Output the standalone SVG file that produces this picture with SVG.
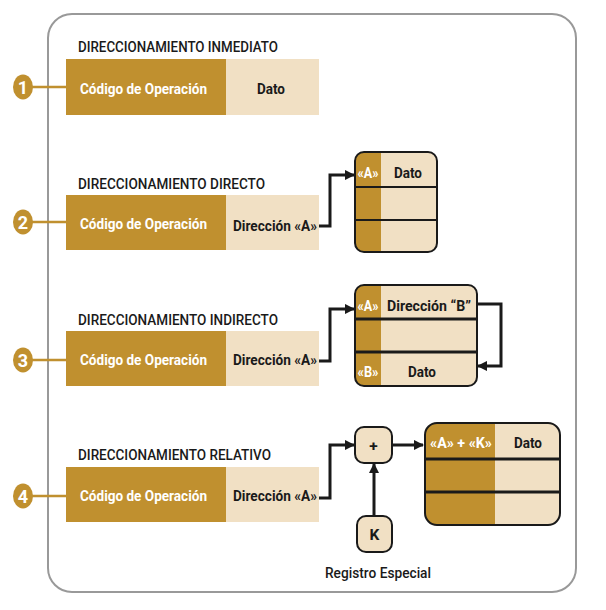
<svg xmlns="http://www.w3.org/2000/svg" width="606" height="610" viewBox="0 0 606 610">
<defs>
<style>
text{font-family:"Liberation Sans Narrow",Roboto,"Liberation Sans",Arial,sans-serif;}
.title{font-size:14px;font-weight:500;fill:#1a1a1a;}
.op{font-size:15.5px;font-weight:bold;fill:#fff;}
.lbl{font-size:15.5px;font-weight:bold;fill:#1a1a1a;}
.wl{font-size:14px;font-weight:bold;fill:#fff;}
.num{font-size:18px;font-weight:bold;fill:#fff;}
.dark{fill:#C0902F;}
.light{fill:#F1E0C4;}
.lead{stroke:#C0902F;stroke-width:2.5;fill:none;}
.conn{stroke:#1a1a1a;stroke-width:3;fill:none;}
.frame{fill:none;stroke:#1a1a1a;stroke-width:2;}
.sep{stroke:#1a1a1a;stroke-width:2;}
.sep3{stroke:#1a1a1a;stroke-width:3;}
</style>
<marker id="ah" viewBox="0 0 10 10" refX="9" refY="5" markerWidth="3.5" markerHeight="3.5" orient="auto" markerUnits="strokeWidth">
<path d="M0,0 L10,5 L0,10 z" fill="#1a1a1a"/>
</marker>
<clipPath id="c2"><rect x="355" y="152" width="82" height="100" rx="9"/></clipPath>
<clipPath id="c3"><rect x="355" y="285" width="122" height="101" rx="9"/></clipPath>
<clipPath id="c4"><rect x="425" y="423" width="135" height="102" rx="12"/></clipPath>
</defs>
<rect x="48" y="14" width="528" height="578" rx="24" fill="#fff" stroke="#999" stroke-width="2"/>

<g id="row1">
<text class="title" x="78" y="52" textLength="200" lengthAdjust="spacingAndGlyphs">DIRECCIONAMIENTO INMEDIATO</text>
<rect class="dark" x="66" y="59" width="160" height="56"/>
<rect class="light" x="226" y="59" width="93" height="56"/>
<text class="op" x="80" y="94" textLength="127" lengthAdjust="spacingAndGlyphs">Código de Operación</text>
<text class="lbl" x="271" y="94" text-anchor="middle" textLength="28" lengthAdjust="spacingAndGlyphs">Dato</text>
<line class="lead" x1="32" y1="87" x2="66" y2="87"/>
<ellipse class="dark" cx="23" cy="87" rx="10" ry="12.5"/>
<text class="num" x="23" y="93.5" text-anchor="middle">1</text>
</g>

<g id="row2">
<text class="title" x="78" y="189" textLength="187" lengthAdjust="spacingAndGlyphs">DIRECCIONAMIENTO DIRECTO</text>
<rect class="dark" x="66" y="195" width="160" height="55"/>
<rect class="light" x="226" y="195" width="93" height="55"/>
<text class="op" x="80" y="229" textLength="127" lengthAdjust="spacingAndGlyphs">Código de Operación</text>
<text class="lbl" x="233" y="231" textLength="84" lengthAdjust="spacingAndGlyphs">Dirección «A»</text>
<line class="lead" x1="32" y1="222" x2="66" y2="222"/>
<ellipse class="dark" cx="23" cy="222" rx="10" ry="12.5"/>
<text class="num" x="23" y="228.5" text-anchor="middle">2</text>
</g>

<g id="mem2">
<g clip-path="url(#c2)">
<rect class="light" x="355" y="152" width="82" height="100"/>
<rect class="dark" x="355" y="152" width="26" height="100"/>
</g>
<line class="sep" x1="355" y1="187" x2="437" y2="187"/>
<line class="sep" x1="355" y1="220" x2="437" y2="220"/>
<rect class="frame" x="355" y="152" width="82" height="100" rx="9"/>
<text class="wl" x="368" y="178" text-anchor="middle" textLength="21" lengthAdjust="spacingAndGlyphs">«A»</text>
<text class="lbl" x="408" y="178" text-anchor="middle" textLength="28" lengthAdjust="spacingAndGlyphs">Dato</text>
</g>

<g id="row3">
<text class="title" x="78" y="325" textLength="200" lengthAdjust="spacingAndGlyphs">DIRECCIONAMIENTO INDIRECTO</text>
<rect class="dark" x="66" y="331" width="160" height="55"/>
<rect class="light" x="226" y="331" width="93" height="55"/>
<text class="op" x="80" y="365" textLength="127" lengthAdjust="spacingAndGlyphs">Código de Operación</text>
<text class="lbl" x="233" y="365" textLength="84" lengthAdjust="spacingAndGlyphs">Dirección «A»</text>
<line class="lead" x1="32" y1="360" x2="66" y2="360"/>
<ellipse class="dark" cx="23" cy="360" rx="10" ry="12.5"/>
<text class="num" x="23" y="366.5" text-anchor="middle">3</text>
</g>

<g id="mem3">
<g clip-path="url(#c3)">
<rect class="light" x="355" y="285" width="122" height="101"/>
<rect class="dark" x="355" y="285" width="26" height="101"/>
</g>
<line class="sep3" x1="355" y1="319" x2="477" y2="319"/>
<line class="sep3" x1="355" y1="352" x2="477" y2="352"/>
<rect class="frame" x="355" y="285" width="122" height="101" rx="9"/>
<text class="wl" x="368" y="311" text-anchor="middle" textLength="21" lengthAdjust="spacingAndGlyphs">«A»</text>
<text class="lbl" x="429" y="311" text-anchor="middle" textLength="84" lengthAdjust="spacingAndGlyphs">Dirección “B”</text>
<text class="wl" x="368" y="377" text-anchor="middle" textLength="21" lengthAdjust="spacingAndGlyphs">«B»</text>
<text class="lbl" x="422" y="377" text-anchor="middle" textLength="28" lengthAdjust="spacingAndGlyphs">Dato</text>
</g>

<g id="row4">
<text class="title" x="78" y="460" textLength="193" lengthAdjust="spacingAndGlyphs">DIRECCIONAMIENTO RELATIVO</text>
<rect class="dark" x="66" y="467" width="160" height="55"/>
<rect class="light" x="226" y="467" width="93" height="55"/>
<text class="op" x="80" y="501" textLength="127" lengthAdjust="spacingAndGlyphs">Código de Operación</text>
<text class="lbl" x="233" y="501" textLength="84" lengthAdjust="spacingAndGlyphs">Dirección «A»</text>
<line class="lead" x1="32" y1="496" x2="66" y2="496"/>
<ellipse class="dark" cx="23" cy="496" rx="10" ry="12.5"/>
<text class="num" x="23" y="502.5" text-anchor="middle">4</text>
</g>

<g id="plus">
<rect class="light" x="355" y="427" width="37" height="36" rx="9" stroke="#1a1a1a" stroke-width="2"/>
<text class="lbl" x="373.5" y="451" text-anchor="middle">+</text>
</g>

<g id="kreg">
<rect class="light" x="357" y="516" width="35" height="36" rx="9" stroke="#1a1a1a" stroke-width="2"/>
<text class="lbl" x="374.5" y="540" text-anchor="middle">K</text>
<text class="title" x="378" y="578" text-anchor="middle" font-size="15" textLength="106" lengthAdjust="spacingAndGlyphs">Registro Especial</text>
</g>

<g id="mem4">
<g clip-path="url(#c4)">
<rect class="light" x="425" y="423" width="135" height="102"/>
<rect class="dark" x="425" y="423" width="70" height="102"/>
</g>
<line class="sep3" x1="425" y1="459" x2="560" y2="459"/>
<line class="sep3" x1="425" y1="492" x2="560" y2="492"/>
<rect class="frame" x="425" y="423" width="135" height="102" rx="12" stroke-width="2.5"/>
<text class="wl" x="461" y="448" text-anchor="middle" textLength="62" lengthAdjust="spacingAndGlyphs">«A» + «K»</text>
<text class="lbl" x="528" y="448" text-anchor="middle" textLength="28" lengthAdjust="spacingAndGlyphs">Dato</text>
</g>

<g id="connectors">
<path class="conn" d="M319,226 H330 V175 H354" marker-end="url(#ah)"/>
<path class="conn" d="M319,361 H330 V309 H354" marker-end="url(#ah)"/>
<path class="conn" d="M477,304 H501 V366 H478" marker-end="url(#ah)"/>
<path class="conn" d="M319,498 H330 V445 H354" marker-end="url(#ah)"/>
<path class="conn" d="M392,445 H423" marker-end="url(#ah)"/>
<path class="conn" d="M374,516 V464" marker-end="url(#ah)" stroke-width="2.5"/>
</g>
</svg>
